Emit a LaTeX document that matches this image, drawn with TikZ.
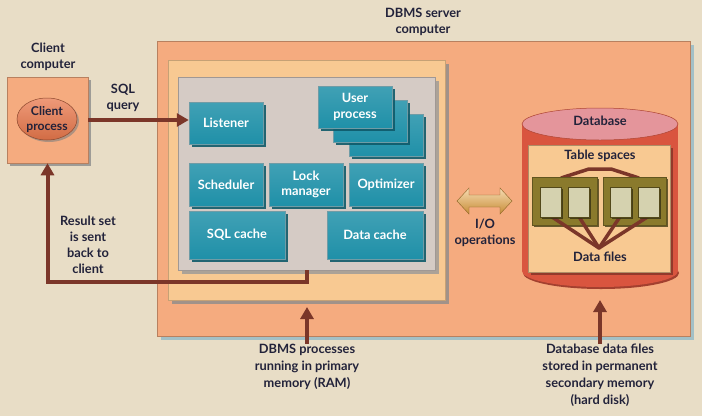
\documentclass[tikz,border=0pt]{standalone}
\usepackage{fontspec}
\setmainfont{Lato}[BoldFont={Lato Bold}]
\usetikzlibrary{shadows,arrows.meta,shapes.geometric}
\definecolor{bg}{HTML}{E8DDC6}
\definecolor{salmon}{HTML}{F5AB7F}
\definecolor{lorange}{HTML}{F8C992}
\definecolor{lgray}{HTML}{D5CBC5}
\definecolor{tealc}{HTML}{1F90A8}
\definecolor{tealdark}{HTML}{0F5A6A}
\definecolor{brownc}{HTML}{7B3629}
\definecolor{dbred}{HTML}{D9553F}
\definecolor{dbpink}{HTML}{E4959B}
\definecolor{olive}{HTML}{8A7A2C}
\definecolor{sqc}{HTML}{D5D2AF}
\definecolor{gold}{HTML}{EAA640}
\definecolor{txt}{HTML}{22223A}
\definecolor{cliorange}{HTML}{E9784C}
\definecolor{bluegray}{HTML}{A3C0C6}
\tikzset{
  lbl/.style={text=txt, font=\bfseries\fontsize{12.8}{16}\selectfont, align=center, inner sep=0pt},
  lbltall/.style={lbl, font=\bfseries\fontsize{12.8}{17}\selectfont},
  tbox/.style={rectangle, top color=tealc!85!white, bottom color=tealc, draw=tealdark!60, line width=0.5pt, text=white,
    font=\bfseries\fontsize{12.8}{15.5}\selectfont, align=center, inner sep=0pt,
    minimum width=74pt, minimum height=42pt,
    drop shadow={shadow xshift=2.5pt, shadow yshift=-2.5pt, fill=tealdark, opacity=0.9}},
  panel/.style={rectangle, inner sep=0pt, line width=0.5pt},
  arr/.style={draw=brownc, line width=4pt, -{Triangle[length=12pt,width=13pt]}},
  dline/.style={draw=brownc, line width=3.5pt},
  olivebox/.style={rectangle, fill=olive, draw=olive!70!black, line width=0.4pt, inner sep=0pt,
    minimum height=48pt, drop shadow={shadow xshift=2pt, shadow yshift=-2pt, fill=olive!50!black, opacity=0.8}},
  sqbox/.style={rectangle, fill=sqc, draw=olive!60!black, line width=0.4pt, inner sep=0pt,
    minimum width=21pt, minimum height=30pt,
    drop shadow={shadow xshift=1.5pt, shadow yshift=-1.5pt, fill=olive!40!black, opacity=0.8}}
}
\begin{document}
\begin{tikzpicture}[x=1pt,y=-1pt]
\fill[bg] (0,0) rectangle (702,416);
\useasboundingbox (0,0) rectangle (702,416);

% server computer
\node[panel, fill=salmon, draw=salmon!75!black, minimum width=533pt, minimum height=295pt,
  drop shadow={shadow xshift=4pt, shadow yshift=-4pt, fill=bluegray, opacity=1}] (server) at (423.5,188.5) {};
\node[lbl] (servertext) at (423,22) {DBMS server\\computer};

% primary memory
\node[panel, fill=lorange, draw=lorange!80!black, minimum width=277pt, minimum height=240pt,
  drop shadow={shadow xshift=4pt, shadow yshift=-4pt, fill=black!45, opacity=0.8}] (mem) at (306.5,180) {};
\node[panel, fill=lgray, draw=lgray!75!black, minimum width=257pt, minimum height=193pt,
  drop shadow={shadow xshift=4pt, shadow yshift=-4pt, fill=black!40, opacity=0.8}] (procs) at (306.5,173.5) {};

% processes
\node[tbox] (listener) at (226,123) {Listener};
\node[tbox] (up3) at (386,135.5) {};
\node[tbox] (up2) at (370,121) {};
\node[tbox] (up1) at (355,107) {User\\process};
\node[tbox, minimum height=43pt] (sched) at (226,184.5) {Scheduler};
\node[tbox, minimum height=43pt] (lock) at (306,184.5) {Lock\\manager};
\node[tbox, minimum height=43pt] (optim) at (386,184.5) {Optimizer};
\node[tbox, minimum width=96pt, minimum height=48pt] (sqlcache) at (237,235) {SQL cache};
\node[tbox, minimum width=96pt, minimum height=48pt] (datacache) at (375,235) {Data cache};

% client computer
\node[panel, fill=salmon, draw=salmon!75!black, minimum width=81pt, minimum height=86pt,
  drop shadow={shadow xshift=3pt, shadow yshift=-3pt, fill=black!45, opacity=0.8}] (clientbox) at (47.5,120) {};
\node[lbl] (clienttext) at (48,57) {Client\\computer};
\node[ellipse, top color=cliorange!75!white, bottom color=cliorange!90!black, draw=cliorange!60!black, line width=0.5pt, inner sep=0pt,
  minimum width=60pt, minimum height=42pt,
  drop shadow={shadow xshift=2pt, shadow yshift=-2pt, fill=black!50, opacity=0.6}] (client) at (47,119) {};
\node[lbl, font=\bfseries\fontsize{12.2}{15}\selectfont] (clientproc) at (client.center) {Client\\process};

% SQL query
\node[lbl] (sqltext) at (123,98) {SQL\\query};
\draw[arr] (clientbox.east) -- (listener.west |- clientbox.east);

% result set
\node[lbl] (resulttext) at (88,245) {Result set\\is sent\\back to\\client};
\draw[arr] (procs.south) -- ++(0,12) -| (clientbox.south);

% database cylinder
\fill[dbred!75!black] (601,273) ellipse [x radius=78pt, y radius=16pt];
\fill[dbred] (522,124) rectangle (678,271);
\fill[dbred] (600,271) ellipse [x radius=78pt, y radius=16pt];
\fill[dbpink] (600,124) ellipse [x radius=78pt, y radius=16pt];
\draw[dbred!80!black, line width=0.5pt] (600,124) ellipse [x radius=78pt, y radius=16pt];
\node[lbl] (dbtext) at (600,121) {Database};
\node[panel, fill=lorange, draw=lorange!70!black, minimum width=142pt, minimum height=127pt,
  drop shadow={shadow xshift=3pt, shadow yshift=-3pt, fill=dbred!60!black, opacity=0.8}] (dbinner) at (599,208.5) {};
\node[lbl] (tstext) at (600,156) {Table spaces};
\node[lbl] (dftext) at (600,257) {Data files};
\coordinate (dfapex) at (599,248);

\draw[dline, line join=round] (561,178) -- (589,169) -- (611,169) -- (639,178);
\node[olivebox, minimum width=65pt] (ts1) at (564.5,201) {};
\node[olivebox, minimum width=63pt] (ts2) at (634.5,201) {};
\coordinate (f1b) at (550.5,216);
\coordinate (f2b) at (578.5,216);
\coordinate (f3b) at (620.5,216);
\coordinate (f4b) at (649,216);
\foreach \f in {f1b,f2b,f3b,f4b} \draw[dline, line cap=round] (dfapex) -- (\f);
\node[sqbox] (f1) at (550.5,202) {};
\node[sqbox] (f2) at (578.5,202) {};
\node[sqbox] (f3) at (620.5,202) {};
\node[sqbox] (f4) at (649,202) {};

% I/O arrow
\shade[top color=gold!40!white, bottom color=gold!85!black, draw=gold!60!black, line width=0.4pt]
  (457,201) -- (469,188) -- (469,195) -- (500,195) -- (500,188) -- (512,201)
  -- (500,214) -- (500,207) -- (469,207) -- (469,214) -- cycle;
\node[lbl] (iotext) at (485,233) {I/O\\operations};

% bottom labels
\node[lbltall] (ramtext) at (307,367) {DBMS processes\\running in primary\\memory (RAM)};
\coordinate (ramtip) at (307,307);
\draw[arr] (ramtext.north) -- (ramtip);
\node[lbltall] (disktext) at (600,375) {Database data files\\stored in permanent\\secondary memory\\(hard disk)};
\coordinate (disktip) at (600,300);
\draw[arr] (disktext.north) -- (disktip);
\end{tikzpicture}
\end{document}
